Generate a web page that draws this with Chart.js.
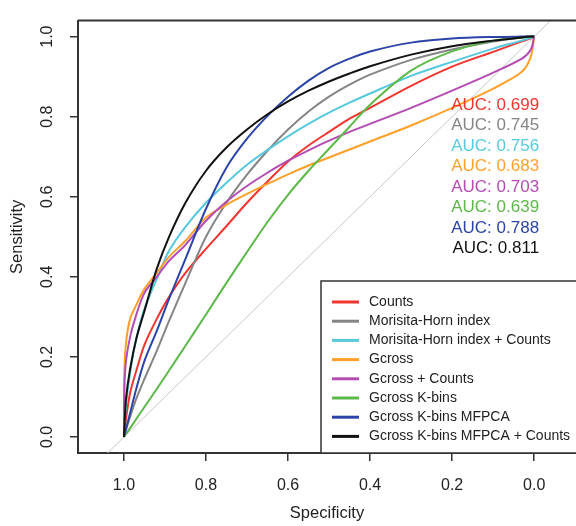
<!DOCTYPE html>
<html>
<head>
<meta charset="utf-8">
<script src="https://cdn.jsdelivr.net/npm/chart.js@4.4.0/dist/chart.umd.min.js"></script>
<style>
  body { margin: 0; background: #fff; }
  canvas { display: block; }
</style>
</head>
<body>
<canvas id="roc" width="576" height="526"></canvas>
<script>
// specificity grid shared by every ROC curve
const specificity = [1, 0.999, 0.995, 0.985, 0.97, 0.95, 0.92, 0.89, 0.85, 0.8, 0.75, 0.7, 0.65, 0.6, 0.55, 0.5, 0.45, 0.4, 0.3, 0.2, 0.1, 0.03, 0.008, 0];

// sensitivity of each model at those specificities
const counts       = [0, 0.01, 0.045, 0.11, 0.165, 0.23, 0.295, 0.35, 0.41, 0.47, 0.527, 0.585, 0.638, 0.688, 0.728, 0.762, 0.795, 0.822, 0.877, 0.925, 0.962, 0.988, 0.996, 1];
const morisita     = [0, 0.004, 0.018, 0.05, 0.095, 0.145, 0.215, 0.29, 0.385, 0.5, 0.585, 0.655, 0.715, 0.768, 0.813, 0.85, 0.88, 0.905, 0.942, 0.968, 0.988, 0.998, 1, 1];
const morisitaCnt  = [0, 0.02, 0.08, 0.16, 0.245, 0.32, 0.395, 0.465, 0.525, 0.585, 0.635, 0.68, 0.717, 0.751, 0.782, 0.81, 0.835, 0.858, 0.902, 0.937, 0.97, 0.99, 0.997, 1];
const gcross       = [0, 0.16, 0.235, 0.295, 0.33, 0.37, 0.41, 0.45, 0.49, 0.548, 0.58, 0.607, 0.632, 0.656, 0.678, 0.698, 0.718, 0.738, 0.778, 0.822, 0.87, 0.912, 0.95, 1];
const gcrossCnt    = [0, 0.12, 0.19, 0.25, 0.305, 0.36, 0.4, 0.44, 0.48, 0.54, 0.588, 0.627, 0.66, 0.69, 0.716, 0.74, 0.762, 0.782, 0.822, 0.865, 0.91, 0.945, 0.968, 1];
const kbins        = [0, 0.0015, 0.0075, 0.022, 0.045, 0.075, 0.12, 0.166, 0.228, 0.306, 0.385, 0.462, 0.537, 0.605, 0.665, 0.72, 0.775, 0.83, 0.915, 0.963, 0.99, 0.998, 1, 1];
const kbinsMfpca   = [0, 0.005, 0.02, 0.06, 0.12, 0.19, 0.265, 0.345, 0.445, 0.57, 0.673, 0.745, 0.802, 0.85, 0.89, 0.922, 0.945, 0.963, 0.985, 0.995, 0.999, 1, 1, 1];
const kbinsMfpcaCnt= [0, 0.02, 0.095, 0.17, 0.245, 0.315, 0.42, 0.5, 0.585, 0.665, 0.723, 0.768, 0.806, 0.838, 0.865, 0.888, 0.908, 0.926, 0.955, 0.976, 0.99, 0.998, 1, 1];

const labels = ['Counts', 'Morisita-Horn index', 'Morisita-Horn index + Counts', 'Gcross',
  'Gcross + Counts', 'Gcross K-bins', 'Gcross K-bins MFPCA', 'Gcross K-bins MFPCA + Counts'];
const aucValues = [0.699, 0.745, 0.756, 0.683, 0.703, 0.639, 0.788, 0.811];
const colors = ['#f2352e', '#858585', '#56c9de', '#ffa02a', '#b44cb4', '#5cb848', '#2c44a8', '#111111'];
const xTicks = [0, 0.2, 0.4, 0.6, 0.8, 1.0];
const yTicks = [0, 0.2, 0.4, 0.6, 0.8, 1.0];

const series = [counts, morisita, morisitaCnt, gcross, gcrossCnt, kbins, kbinsMfpca, kbinsMfpcaCnt];
const axisColor = '#333';
const fontFamily = '"Liberation Sans", Arial, sans-serif';

const datasets = series.map((s, i) => ({
  label: labels[i],
  data: specificity.map((sp, j) => ({ x: sp, y: s[j] })),
  borderColor: colors[i],
  borderWidth: 2,
  pointRadius: 0,
  tension: 0.3,
  order: 10 - i
}));

// chance line, sens = 1 - spec
datasets.push({
  label: 'chance',
  data: [{ x: 1.2, y: -0.2 }, { x: -0.2, y: 1.2 }],
  borderColor: '#c8c8c8',
  borderWidth: 1,
  pointRadius: 0,
  order: 20
});

// box top edge, AUC labels and the legend, drawn like base R does
const overlay = {
  id: 'overlay',
  afterDatasetsDraw(chart) {
    const { ctx, chartArea: a, scales: { x, y } } = chart;
    ctx.save();
    ctx.strokeStyle = axisColor;
    ctx.lineWidth = 2;
    ctx.beginPath();
    ctx.moveTo(a.left, a.top);
    ctx.lineTo(a.right + 5, a.top);
    ctx.stroke();

    ctx.font = '17px ' + fontFamily;
    ctx.textAlign = 'right';
    ctx.textBaseline = 'middle';
    const ax = x.getPixelForValue(-0.012);
    const ay = y.getPixelForValue(0.829);
    aucValues.forEach((v, i) => {
      ctx.fillStyle = colors[i];
      ctx.fillText('AUC: ' + v.toFixed(3), ax, ay + i * 20.5);
    });

    const left = a.right - 255, top = a.bottom - 172;
    ctx.fillStyle = '#fff';
    ctx.fillRect(left, top, a.right + 10 - left, a.bottom - top);
    ctx.lineWidth = 1.5;
    ctx.strokeRect(left, top, a.right + 10 - left, a.bottom - top);
    ctx.font = '14px ' + fontFamily;
    ctx.textAlign = 'left';
    labels.forEach((lab, i) => {
      const ly = top + 21 + i * 19.2;
      ctx.strokeStyle = colors[i];
      ctx.lineWidth = 3;
      ctx.beginPath();
      ctx.moveTo(left + 11, ly);
      ctx.lineTo(left + 38, ly);
      ctx.stroke();
      ctx.fillStyle = '#222';
      ctx.fillText(lab, left + 48, ly);
    });
    ctx.restore();
  }
};

new Chart(document.getElementById('roc'), {
  type: 'line',
  data: { datasets },
  plugins: [overlay],
  options: {
    responsive: false,
    animation: false,
    layout: { padding: { top: 11, right: 0, left: 0, bottom: 0 } },
    plugins: { legend: { display: false }, tooltip: { enabled: false } },
    scales: {
      x: {
        type: 'linear',
        reverse: true,
        min: -0.102,
        max: 1.112,
        afterBuildTicks: s => { s.ticks = xTicks.map(v => ({ value: v })); },
        afterFit: s => { s.height = 73; },
        grid: { drawOnChartArea: false, drawTicks: true, tickLength: 8, color: axisColor, lineWidth: 1.5 },
        border: { display: true, color: axisColor, width: 2 },
        ticks: { padding: 15, color: '#222', font: { size: 16, family: fontFamily }, maxRotation: 0, callback: v => v.toFixed(1) },
        title: { display: true, text: 'Specificity', color: '#222', font: { size: 16.5, family: fontFamily }, padding: { top: 0, bottom: 3 } }
      },
      y: {
        type: 'linear',
        min: -0.04,
        max: 1.04,
        afterBuildTicks: s => { s.ticks = yTicks.map(v => ({ value: v })); },
        afterFit: s => { s.width = 78; },
        grid: { drawOnChartArea: false, drawTicks: true, tickLength: 8, color: axisColor, lineWidth: 1.5 },
        border: { display: true, color: axisColor, width: 2 },
        ticks: { padding: 11, color: '#222', crossAlign: 'center', minRotation: 90, maxRotation: 90, font: { size: 16, family: fontFamily }, callback: v => v.toFixed(1) },
        title: { display: true, text: 'Sensitivity', color: '#222', font: { size: 16.5, family: fontFamily }, padding: { top: 8, bottom: 0 } }
      }
    }
  }
});
</script>
</body>
</html>
